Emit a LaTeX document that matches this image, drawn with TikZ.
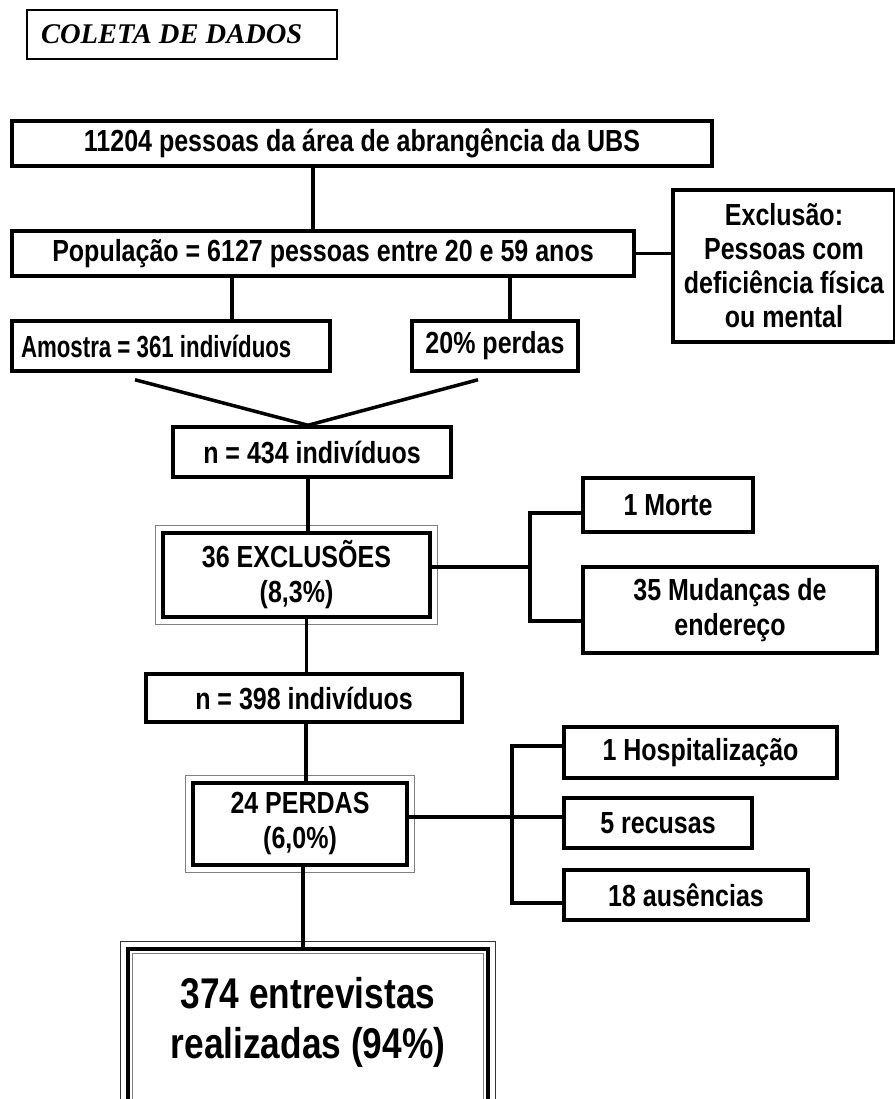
\documentclass[tikz,border=0pt]{standalone}
\usepackage{fontspec}
\setmainfont{Liberation Sans}[FakeStretch=0.82]
\newfontfamily\titulofont{Liberation Serif}
\begin{document}
\begin{tikzpicture}[x=1pt,y=-1pt,
    caixa/.style={draw, line width=3.5pt, inner sep=0pt, align=center,
        font=\fontsize{30.5}{35}\selectfont\bfseries},
    conector/.style={line width=3.5pt},
    moldura/.style={draw=gray, line width=1.2pt},
    titulo/.style={draw, line width=1.3pt, inner xsep=14pt, text width=282pt,
        minimum height=49pt, align=flush left,
        font=\titulofont\fontsize{28.5}{32}\selectfont\bfseries\itshape}]
    \useasboundingbox (0,0) rectangle (894,1099);

    \node[titulo] (titulo) at (182,34.5) {COLETA DE DADOS};

    \node[caixa, minimum width=700pt, minimum height=45pt] (pessoas) at (362,143.5)
        {11204 pessoas da área de abrangência da UBS};
    \node[caixa, minimum width=622pt, minimum height=45pt] (populacao) at (323,253.5)
        {População = 6127 pessoas entre 20 e 59 anos};
    \node[caixa, minimum width=222pt, minimum height=152pt,
        font=\fontsize{30.5}{34}\selectfont\bfseries] (exclusao) at (784,266)
        {Exclusão:\\Pessoas com\\deficiência física\\ou mental};
    \node[caixa, minimum width=318pt, minimum height=50pt, text width=300pt, align=flush left,
        font=\fontsize{30.5}{35}\selectfont\bfseries\addfontfeatures{FakeStretch=0.73}]
        (amostra) at (171,346) {Amostra = 361 indivíduos};
    \node[caixa, minimum width=166pt, minimum height=50pt] (perdas20) at (495,346) {20\% perdas};
    \node[caixa, minimum width=278pt, minimum height=50pt] (n434) at (312,452) {n = 434 indivíduos};

    \node[caixa, minimum width=267pt, minimum height=84pt] (excl36) at (296.5,575)
        {36 EXCLUSÕES\\(8,3\%)};
    \node[caixa, minimum width=170pt, minimum height=54pt] (morte) at (668,505) {1 Morte};
    \node[caixa, minimum width=294pt, minimum height=86pt] (mudancas) at (730,610)
        {35 Mudanças de\\endereço};

    \node[caixa, minimum width=316pt, minimum height=48pt] (n398) at (304,698) {n = 398 indivíduos};

    \node[caixa, minimum width=214pt, minimum height=82pt] (perdas24) at (300,824)
        {24 PERDAS\\(6,0\%)};
    \node[caixa, minimum width=273pt, minimum height=51pt] (hosp) at (700.5,752.5) {1 Hospitalização};
    \node[caixa, minimum width=188pt, minimum height=50pt] (recusas) at (658,823) {5 recusas};
    \node[caixa, minimum width=244pt, minimum height=50pt] (ausencias) at (686,895) {18 ausências};

    \node[caixa, minimum width=360pt, minimum height=160pt,
        label={[yshift=7pt, align=center, font=\fontsize{43}{50}\selectfont\bfseries]center:374 entrevistas\\realizadas (94\%)}]
        (entrevistas) at (308,1029) {};

    % molduras duplas e tripla
    \draw[moldura] ([shift={(-6pt,6pt)}]excl36.north west) rectangle ([shift={(6pt,-6pt)}]excl36.south east);
    \draw[moldura] ([shift={(-6pt,6pt)}]perdas24.north west) rectangle ([shift={(6pt,-6pt)}]perdas24.south east);
    \draw[moldura, draw=black!80] ([shift={(-6pt,6pt)}]entrevistas.north west) rectangle ([shift={(6pt,-6pt)}]entrevistas.south east);
    \draw[moldura] ([shift={(6pt,-6pt)}]entrevistas.north west) rectangle ([shift={(-6pt,6pt)}]entrevistas.south east);

    % ligacoes
    \draw[conector] ([xshift=-49pt]pessoas.south) -- ([xshift=-10pt]populacao.north);
    \draw[conector] (populacao.east) -- (populacao.east -| exclusao.west);
    \draw[conector] ([xshift=61pt]amostra.north) -- ([xshift=61pt]amostra.north |- populacao.south);
    \draw[conector] ([xshift=15pt]perdas20.north) -- ([xshift=15pt]perdas20.north |- populacao.south);
    \draw[conector] ([xshift=-36pt,yshift=-7pt]amostra.south) -- ([xshift=-4pt]n434.north)
        -- ([xshift=-17pt,yshift=-7pt]perdas20.south);
    \draw[conector] ([xshift=-4pt]n434.south) -- ([xshift=-4pt]n434.south |- excl36.north);

    \coordinate (ramo1) at (530,567);
    \draw[conector] (excl36.east |- ramo1) -- (ramo1);
    \draw[conector] ([yshift=-8pt]morte.west) -| (ramo1) |- ([yshift=-11pt]mudancas.west);

    \draw[conector] ([xshift=10pt]excl36.south) -- ([xshift=10pt]excl36.south |- n398.north);
    \draw[conector] ([xshift=2pt]n398.south) -- ([xshift=2pt]n398.south |- perdas24.north);

    \coordinate (ramo2) at (512,817);
    \draw[conector] (perdas24.east |- ramo2) -- (recusas.west |- ramo2);
    \draw[conector] ([yshift=6.5pt]hosp.west) -| (ramo2);
    \draw[conector] ([yshift=-8pt]ausencias.west) -| (ramo2);

    \draw[conector] ([xshift=3pt]perdas24.south) -- ([xshift=3pt]perdas24.south |- entrevistas.north);
\end{tikzpicture}
\end{document}
